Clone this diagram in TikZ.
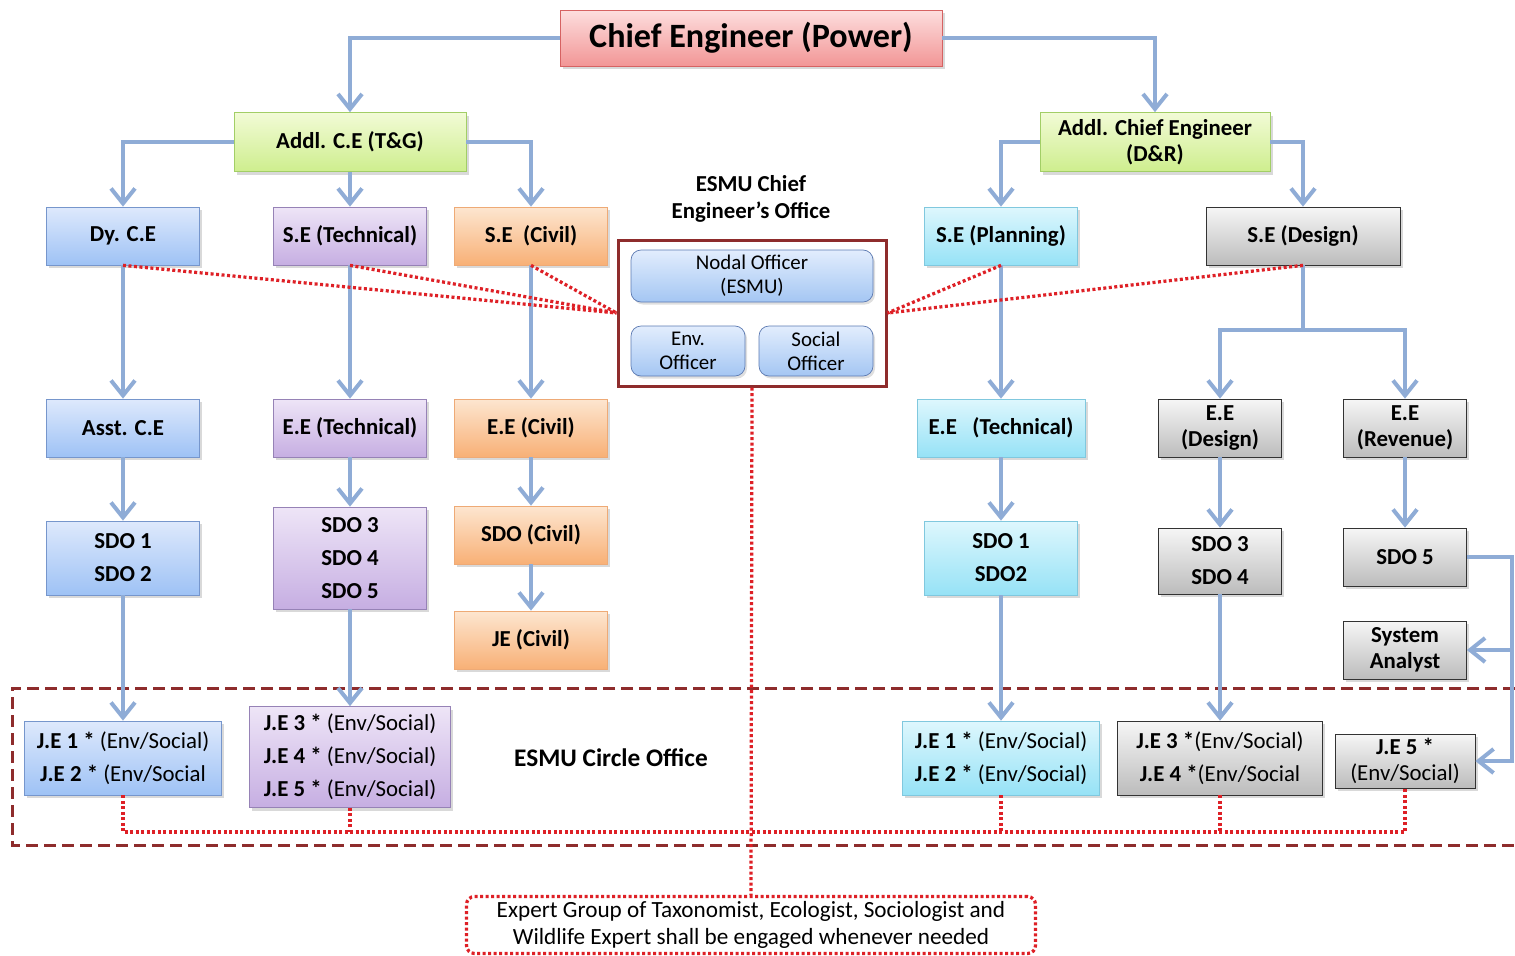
\documentclass[tikz,border=0pt]{standalone}
\usepackage{fontspec}
\setmainfont{Carlito}
\usetikzlibrary{arrows.meta,shadows}

\definecolor{flowblue}{RGB}{143,172,214}
\definecolor{dotred}{RGB}{222,32,38}
\definecolor{framered}{RGB}{142,44,44}
\definecolor{bluetop}{RGB}{222,233,252}
\definecolor{bluebot}{RGB}{158,194,245}
\definecolor{blueline}{RGB}{118,150,204}
\definecolor{purtop}{RGB}{238,229,247}
\definecolor{purbot}{RGB}{198,174,226}
\definecolor{purline}{RGB}{150,130,182}
\definecolor{orgtop}{RGB}{253,230,208}
\definecolor{orgbot}{RGB}{248,176,118}
\definecolor{orgline}{RGB}{238,170,118}
\definecolor{cyantop}{RGB}{222,247,253}
\definecolor{cyanbot}{RGB}{150,226,246}
\definecolor{cyanline}{RGB}{128,200,222}
\definecolor{graytop}{RGB}{246,246,246}
\definecolor{graybot}{RGB}{188,188,188}
\definecolor{greentop}{RGB}{242,251,214}
\definecolor{greenbot}{RGB}{206,238,142}
\definecolor{greenline}{RGB}{162,206,102}
\definecolor{pinktop}{RGB}{253,222,222}
\definecolor{pinkbot}{RGB}{242,150,150}
\definecolor{pinkline}{RGB}{214,98,98}
\definecolor{offtop}{RGB}{226,237,253}
\definecolor{offbot}{RGB}{164,198,243}
\definecolor{offline}{RGB}{92,122,178}

\begin{document}
\begin{tikzpicture}[
    x=0.2mm, y=-0.2mm,
    base/.style = {rectangle, draw, inner sep=0pt, align=center,
      minimum width=30.6mm, minimum height=11.6mm,
      font=\bfseries\fontsize{13}{14.5}\selectfont,
      drop shadow={opacity=0.3, shadow xshift=0.5mm, shadow yshift=-0.6mm}},
    bluebox/.style = {base, draw=blueline, top color=bluetop, bottom color=bluebot},
    purbox/.style = {base, draw=purline, top color=purtop, bottom color=purbot},
    orgbox/.style = {base, draw=orgline, top color=orgtop, bottom color=orgbot},
    cyanbox/.style = {base, draw=cyanline, top color=cyantop, bottom color=cyanbot},
    graybox/.style = {base, draw=black!80, top color=graytop, bottom color=graybot},
    greenbox/.style = {base, draw=greenline, top color=greentop, bottom color=greenbot,
      minimum width=46.4mm, minimum height=11.8mm},
    officer/.style = {rectangle, rounded corners=2mm, draw=offline, inner sep=0pt,
      top color=offtop, bottom color=offbot, align=center,
      font=\fontsize{11.9}{13.6}\selectfont,
      drop shadow={opacity=0.25, shadow xshift=0.4mm, shadow yshift=-0.5mm}},
    flow/.style = {draw=flowblue, line width=0.8mm,
      -{Straight Barb[length=3mm, width=4.8mm]}},
    link/.style = {draw=dotred, line width=0.65mm, dash pattern=on 0.6mm off 0.5mm},
    office/.style = {draw=framered, line width=0.6mm, dash pattern=on 2.4mm off 1.2mm},
    node distance=38.4mm
]
  \useasboundingbox (0,0) rectangle (1515,955);

  % circle office frame, open to the right
  \draw[office] (1515,688) -| (12,845) -- (1515,845);
  \node (circlelabel) [font=\bfseries\fontsize{14.4}{16}\selectfont] at (611,758) {ESMU Circle Office};

  \node (chief) [base, draw=pinkline, top color=pinktop, bottom color=pinkbot,
    minimum width=76.4mm, minimum height=11.2mm,
    font=\bfseries\fontsize{19.4}{22}\selectfont] at (751,38) {Chief Engineer (Power)};

  \node (addltg) [greenbox] at (350,142) {Addl. C.E (T\&G)};
  \node (addldr) [greenbox, minimum width=46mm] at (1155,142) {Addl. Chief Engineer\\(D\&R)};

  \node (dyce)     [bluebox] at (123,236) {Dy. C.E};
  \node (setech)   [purbox] at (350,236) {S.E (Technical)};
  \node (secivil)  [orgbox] at (531,236) {S.E\ \ (Civil)};
  \node (seplan)   [cyanbox] at (1001,236) {S.E (Planning)};
  \node (sedesign) [graybox, minimum width=38.8mm] at (1303,236) {S.E (Design)};

  % ESMU chief engineer's office
  \node (esmulabel) [font=\bfseries\fontsize{13}{15.4}\selectfont, align=center] at (751,199)
    {ESMU Chief\\Engineer’s Office};
  \node (esmu) [draw=framered, line width=0.6mm, minimum width=53.6mm, minimum height=29.2mm] at (752,313) {};
  \node (nodal)  [officer, minimum width=48.4mm, minimum height=10.4mm] at (752,276) {Nodal Officer\\(ESMU)};
  \node (envoff) [officer, minimum width=22.8mm, minimum height=10mm] at (688,351) {Env.\\Officer};
  \node (socoff) [officer, minimum width=22.8mm, minimum height=10mm] at (816,351) {Social\\Officer};

  \node (asstce)  [bluebox, below of=dyce] {Asst. C.E};
  \node (eetech)  [purbox, below of=setech] {E.E (Technical)};
  \node (eecivil) [orgbox, below of=secivil] {E.E (Civil)};
  \node (eetechr) [cyanbox, below of=seplan, minimum width=33.6mm] {E.E\ \ \ (Technical)};
  \node (eedesign) [graybox, minimum width=24.6mm] at (1220,428) {E.E\\(Design)};
  \node (eerev)    [graybox, minimum width=24.6mm] at (1405,428) {E.E\\(Revenue)};

  \node (sdo12)    [bluebox, below of=asstce, node distance=26mm, minimum height=14.8mm] {SDO 1\\[4.3pt]SDO 2};
  \node (sdo345)   [purbox, below of=eetech, node distance=26mm, minimum height=20.4mm] {SDO 3\\[4.3pt]SDO 4\\[4.3pt]SDO 5};
  \node (sdocivil) [orgbox, below of=eecivil, node distance=21.4mm] {SDO (Civil)};
  \node (jecivil)  [orgbox, below of=sdocivil, node distance=21mm] {JE (Civil)};
  \node (sdo12r)   [cyanbox, below of=eetechr, node distance=26mm, minimum height=14.8mm] {SDO 1\\[4.3pt]SDO2};
  \node (sdo34)    [graybox, below of=eedesign, node distance=26.6mm, minimum width=24.6mm, minimum height=13.2mm] {SDO 3\\[4.3pt]SDO 4};
  \node (sdo5)     [graybox, below of=eerev, node distance=25.8mm, minimum width=24.6mm] {SDO 5};
  \node (sysan)    [graybox, below of=sdo5, node distance=18.6mm, minimum width=24.6mm] {System\\Analyst};

  \node (je12)  [bluebox, below of=sdo12, node distance=40mm, minimum width=39.4mm, minimum height=14.8mm]
    {J.E 1 * {\mdseries (Env/Social)}\\[4.3pt]J.E 2 * {\mdseries (Env/Social}};
  \node (je345) [purbox, below of=sdo345, node distance=39.8mm, minimum width=40.2mm, minimum height=20.2mm]
    {J.E 3 * {\mdseries (Env/Social)}\\[4.3pt]J.E 4 * {\mdseries (Env/Social)}\\[4.3pt]J.E 5 * {\mdseries (Env/Social)}};
  \node (je12r) [cyanbox, below of=sdo12r, node distance=40mm, minimum width=39.4mm, minimum height=14.8mm]
    {J.E 1 * {\mdseries (Env/Social)}\\[4.3pt]J.E 2 * {\mdseries (Env/Social)}};
  \node (je34)  [graybox, below of=sdo34, node distance=39.4mm, minimum width=41mm, minimum height=14.8mm]
    {J.E 3 *{\mdseries (Env/Social)}\\[4.3pt]J.E 4 *{\mdseries (Env/Social}};
  \node (je5)   [graybox, below of=sysan, node distance=22.2mm, minimum width=28mm, minimum height=10.8mm]
    {J.E 5 *\\{\mdseries (Env/Social)}};

  \node (expert) [draw=dotred, line width=0.65mm, dash pattern=on 0.6mm off 0.5mm, rounded corners=1.6mm,
    fill=white, minimum width=113.8mm, minimum height=11.4mm, inner sep=0pt, align=center,
    font=\fontsize{13.2}{15.4}\selectfont] at (751,925)
    {Expert Group of Taxonomist, Ecologist, Sociologist and\\Wildlife Expert shall be engaged whenever needed};

  % reporting lines
  \draw[flow] (chief.west) -| (addltg.north);
  \draw[flow] (chief.east) -| (addldr.north);
  \draw[flow] (addltg.west) -| (dyce.north);
  \draw[flow] (addltg) -- (setech);
  \draw[flow] (addltg.east) -| (secivil.north);
  \draw[flow] (addldr.west) -| (seplan.north);
  \draw[flow] (addldr.east) -| (sedesign.north);

  \draw[flow] (dyce) -- (asstce);
  \draw[flow] (asstce) -- (sdo12);
  \draw[flow] (sdo12) -- (je12);
  \draw[flow] (setech) -- (eetech);
  \draw[flow] (eetech) -- (sdo345);
  \draw[flow] (sdo345) -- (je345);
  \draw[flow] (secivil) -- (eecivil);
  \draw[flow] (eecivil) -- (sdocivil);
  \draw[flow] (sdocivil) -- (jecivil);
  \draw[flow] (seplan) -- (eetechr);
  \draw[flow] (eetechr) -- (sdo12r);
  \draw[flow] (sdo12r) -- (je12r);
  \draw[flow] (sedesign.south) -- ++(0,65) -| (eedesign.north);
  \draw[flow] (sedesign.south) -- ++(0,65) -| (eerev.north);
  \draw[flow] (eedesign) -- (sdo34);
  \draw[flow] (sdo34) -- (je34);
  \draw[flow] (eerev) -- (sdo5);
  \draw[flow] (sdo5.east) -- ++(45,0) |- (sysan.east);
  \draw[flow] (sdo5.east) -- ++(45,0) |- (je5.east);

  % ESMU links
  \draw[link] (dyce.south) -- (esmu.west);
  \draw[link] (setech.south) -- (esmu.west);
  \draw[link] (secivil.south) -- (esmu.west);
  \draw[link] (seplan.south) -- (esmu.east);
  \draw[link] (sedesign.south) -- (esmu.east);
  \draw[link] (esmu.south) -- (expert.north);
  \coordinate (bus) at (0,832);
  \draw[link] (je12.south) |- (bus -| je5.south) -- (je5.south);
  \foreach \n in {je345, je12r, je34}
    \draw[link] (\n.south) -- (bus -| \n.south);

\end{tikzpicture}
\end{document}
